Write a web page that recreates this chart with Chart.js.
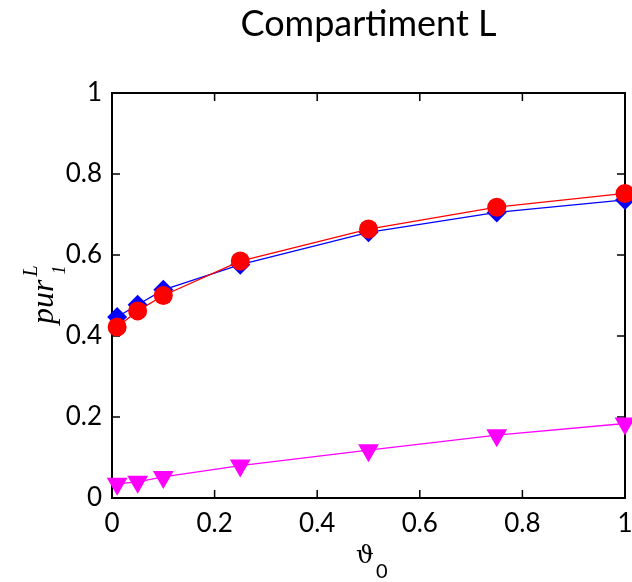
<!DOCTYPE html>
<html lang="en">
<head>
<meta charset="UTF-8">
<title>Compartiment L</title>
<script src="https://cdn.jsdelivr.net/npm/chart.js"></script>
<style>
    html, body { margin: 0; padding: 0; background: #fff; }
    .chart-box { width: 632px; height: 582px; }
</style>
</head>
<body>
<div class="chart-box"><canvas id="purChart" width="632" height="582"></canvas></div>
<script>
// values
const theta0 = [0.01, 0.05, 0.1, 0.25, 0.5, 0.75, 1];
const purRed = [0.422, 0.462, 0.500, 0.585, 0.664, 0.718, 0.752];
const purBlue = [0.447, 0.477, 0.514, 0.576, 0.656, 0.705, 0.736];
const purMagenta = [0.035, 0.040, 0.052, 0.080, 0.118, 0.155, 0.184];
const xTicks = [0, 0.2, 0.4, 0.6, 0.8, 1];
const yTicks = [0, 0.2, 0.4, 0.6, 0.8, 1];

const tickFont = { family: 'Lato', size: 26 };
const toPoints = ys => theta0.map((x, i) => ({ x: x, y: ys[i] }));

// box around the plot + inward tick marks (drawn under the markers)
const framePlugin = {
    id: 'frame',
    beforeDatasetsDraw(chart) {
        const { ctx, chartArea: a, scales: { x, y } } = chart;
        ctx.save();
        ctx.strokeStyle = '#000';
        ctx.lineWidth = 2;
        ctx.strokeRect(a.left, a.top, a.right - a.left, a.bottom - a.top);
        ctx.beginPath();
        const len = 8;
        xTicks.forEach(v => {
            const px = x.getPixelForValue(v);
            ctx.moveTo(px, a.bottom); ctx.lineTo(px, a.bottom - len);
            ctx.moveTo(px, a.top); ctx.lineTo(px, a.top + len);
        });
        yTicks.forEach(v => {
            const py = y.getPixelForValue(v);
            ctx.moveTo(a.left, py); ctx.lineTo(a.left + len, py);
            ctx.moveTo(a.right, py); ctx.lineTo(a.right - len, py);
        });
        ctx.lineWidth = 1.5;
        ctx.stroke();
        ctx.restore();
    },
    afterDraw(chart) {
        const { ctx, chartArea: a } = chart;
        ctx.save();
        ctx.fillStyle = '#000';
        // title
        ctx.font = '36px Lato';
        ctx.textAlign = 'center';
        ctx.textBaseline = 'alphabetic';
        ctx.fillText('Compartiment L', (a.left + a.right) / 2, 36);

        // x label: theta_0
        ctx.textAlign = 'left';
        ctx.font = '25px "DejaVu Serif"';
        ctx.fillText('\u03D1', 356, 563);
        ctx.font = '20px Lato';
        ctx.fillText('0', 376, 578);

        // y label: pur_1^L (rotated)
        ctx.translate(53, 324);
        ctx.rotate(-Math.PI / 2);
        ctx.font = 'italic 32px "Liberation Serif"';
        ctx.fillText('pur', 0, 0);
        const w = ctx.measureText('pur').width;
        ctx.font = 'italic 20px "Liberation Serif"';
        ctx.fillText('L', w + 3, -16);
        ctx.font = 'italic 18px "Liberation Serif"';
        ctx.fillText('1', w + 5, 12);
        ctx.restore();
    }
};

new Chart(document.getElementById('purChart'), {
    type: 'line',
    data: {
        datasets: [
            {
                label: 'red',
                data: toPoints(purRed),
                borderColor: '#ff0000',
                backgroundColor: '#ff0000',
                borderWidth: 1.3,
                pointStyle: 'circle',
                pointRadius: 9.5,
                pointBorderWidth: 0,
                clip: false
            },
            {
                label: 'blue',
                data: toPoints(purBlue),
                borderColor: '#0000ff',
                backgroundColor: '#0000ff',
                borderWidth: 1.3,
                pointStyle: 'rectRot',
                pointRadius: 10,
                pointBorderWidth: 0,
                clip: false
            },
            {
                label: 'magenta',
                data: toPoints(purMagenta),
                borderColor: '#ff00ff',
                backgroundColor: '#ff00ff',
                borderWidth: 1.3,
                pointStyle: 'triangle',
                rotation: 180,
                pointRadius: 12,
                pointBorderWidth: 0,
                clip: false
            }
        ]
    },
    options: {
        responsive: false,
        animation: false,
        layout: { autoPadding: false, padding: { top: 93, right: 7, bottom: 0, left: 0 } },
        plugins: { legend: { display: false }, tooltip: { enabled: false } },
        scales: {
            x: {
                type: 'linear',
                min: 0,
                max: 1,
                afterBuildTicks: s => { s.ticks = xTicks.map(v => ({ value: v })); },
                afterFit: s => { s.height = 84; s.paddingLeft = 0; s.paddingRight = 0; },
                grid: { display: false, drawTicks: false },
                border: { display: false },
                ticks: { font: tickFont, color: '#000', padding: 10, maxRotation: 0, callback: v => String(v) }
            },
            y: {
                min: 0,
                max: 1,
                afterBuildTicks: s => { s.ticks = yTicks.map(v => ({ value: v })); },
                afterFit: s => { s.width = 112; s.paddingTop = 0; s.paddingBottom = 0; },
                grid: { display: false, drawTicks: false },
                border: { display: false },
                ticks: { font: tickFont, color: '#000', padding: 10, callback: v => String(v) }
            }
        }
    },
    plugins: [framePlugin]
});
</script>
</body>
</html>
